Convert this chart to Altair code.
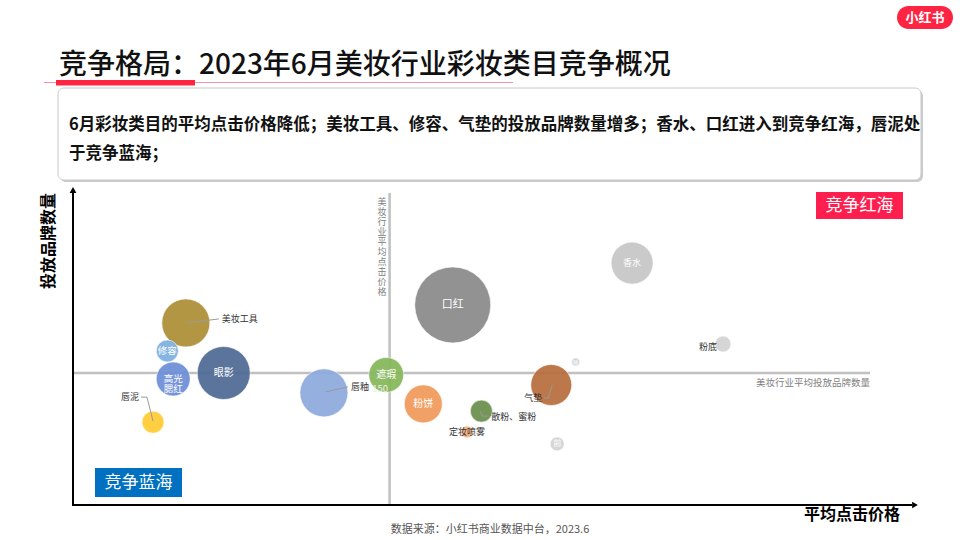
import altair as alt
import pandas as pd

FONT = "Noto Sans CJK SC"

# ---------------- data ----------------
categories = ["美妆工具", "修容", "高光腮红", "眼影", "唇泥", "唇釉", "遮瑕", "口红",
              "粉饼", "散粉、蜜粉", "定妆喷雾", "气垫", "香水", "粉底", "睫毛膏", "妆前乳"]
avg_click_price = [13.4, 11.2, 11.9, 17.9, 9.5, 29.8, 37.2, 45.1,
                   41.6, 48.5, 46.8, 56.8, 66.4, 77.2, 59.7, 57.5]
brand_count = [57.8, 48.9, 40.0, 41.9, 26.3, 35.6, 41.3, 63.5,
               32.1, 29.8, 23.2, 38.1, 76.8, 51.1, 45.4, 19.4]
spend_volume = [40, 8.4, 20, 48.6, 8.4, 40, 21, 100,
                25, 8.4, 2.5, 29, 30.5, 4.4, 1.1, 3.4]
colors = ["#AE8F36", "#7DB0E0", "#6D8FD8", "#4E6A95", "#FFCC33", "#8EAADD", "#86B75A", "#8A8A8A",
          "#F19A5A", "#6A8F4D", "#F6B07F", "#B76D3E", "#C6C6C6", "#D3D3D3", "#D0D0D0", "#D3D3D3"]
industry_avg_price = 37.6
industry_avg_brands = 41.9

# labels drawn inside bubbles: name -> (text, font size)
inner_labels = {"修容": ("修容", 9.5), "高光腮红": ("高光\n腮红", 9.5), "眼影": ("眼影", 10),
                "遮瑕": ("遮瑕", 10), "口红": ("口红", 11), "粉饼": ("粉饼", 10),
                "香水": ("香水", 9), "妆前乳": ("前", 8), "睫毛膏": ("睫", 5)}
# labels drawn outside: name -> (dx px, dy px, align)
outer_labels = {"美妆工具": (36, -4, "left"), "唇泥": (-14, -25, "right"), "唇釉": (27, -6, "left"),
                "气垫": (-9, 13, "right"), "散粉、蜜粉": (10, 6, "left"), "定妆喷雾": (0, 0, "center"),
                "粉底": (-6, 3, "right")}
# leader segments: (name, dx1, dy1, dx2, dy2) in px relative to bubble centre
leaders = [("美妆工具", 1, 0, 33, -4), ("唇泥", -12, -25, -6, -25), ("唇泥", -6, -25, 0, -1),
           ("唇釉", 2, -1, 24, -6), ("气垫", -7, 13, -3, 13), ("气垫", -3, 13, 1, 0),
           ("散粉、蜜粉", -1, 0, 1, 5), ("散粉、蜜粉", 1, 5, 7, 5)]

# ---------------- layout ----------------
X0, X1, Y0, Y1 = 73, 915, 505, 190
PX_X = (X1 - X0) / 100
PX_Y = (Y0 - Y1) / 100

df = pd.DataFrame({"name": categories, "price": avg_click_price, "brands": brand_count,
                   "volume": spend_volume})
pos = {n: (p, b) for n, p, b in zip(categories, avg_click_price, brand_count)}

inner_df = pd.DataFrame([{"price": pos[n][0], "brands": pos[n][1], "txt": t, "fs": fs}
                         for n, (t, fs) in inner_labels.items()])
outer_df = pd.DataFrame([{"price": pos[n][0] + dx / PX_X, "brands": pos[n][1] - dy / PX_Y,
                          "txt": n, "al": al} for n, (dx, dy, al) in outer_labels.items()])
lead_df = pd.DataFrame([{"price": pos[n][0] + a / PX_X, "brands": pos[n][1] - b / PX_Y,
                         "price2": pos[n][0] + c / PX_X, "brands2": pos[n][1] - d / PX_Y}
                        for n, a, b, c, d in leaders])

xs = alt.Scale(domain=[0, 100], range=[X0, X1])
ys = alt.Scale(domain=[0, 100], range=[Y0, Y1])
X = lambda f: alt.X(f, type="quantitative", scale=xs, axis=None)
Y = lambda f: alt.Y(f, type="quantitative", scale=ys, axis=None)

one = alt.Data(values=[{}])


def txt(text, x, y, size, color="#000", align="left", baseline="middle", weight="normal", **kw):
    return alt.Chart(one).mark_text(text=text, font=FONT, fontSize=size, color=color, align=align,
                                    baseline=baseline, fontWeight=weight, **kw).encode(
        x=alt.value(x), y=alt.value(y))


def rect(x, x2, y, y2, color, **kw):
    return alt.Chart(one).mark_rect(color=color, **kw).encode(
        x=alt.value(x), x2=alt.value(x2), y=alt.value(y), y2=alt.value(y2))


def hrule(x, x2, y, color, w, **kw):
    return alt.Chart(one).mark_rule(color=color, strokeWidth=w, **kw).encode(
        x=alt.value(x), x2=alt.value(x2), y=alt.value(y))


def vrule(x, y, y2, color, w, **kw):
    return alt.Chart(one).mark_rule(color=color, strokeWidth=w, **kw).encode(
        x=alt.value(x), y=alt.value(y), y2=alt.value(y2))


layers = []
# header
layers.append(txt("竞争格局：2023年6月美妆行业彩妆类目竞争概况", 59, 66, 28, color="#111", weight=500))
layers.append(hrule(44, 513, 82.5, "#FF8FA3", 1))
layers.append(rect(56, 195, 80, 85.5, "#FF2442"))
# summary box
layers.append(rect(60, 923, 90, 182, "#B5B5B5", cornerRadius=6, opacity=0.7))
layers.append(rect(58, 921, 88, 180, "#FFFFFF", cornerRadius=6, stroke="#C8C8C8", strokeWidth=1))
layers.append(txt("6月彩妆类目的平均点击价格降低；美妆工具、修容、气垫的投放品牌数量增多；香水、口红进入到竞争红海，唇泥处",
                  69, 125, 16.5, color="#111", weight="bold"))
layers.append(txt("于竞争蓝海；", 69, 154, 16.5, color="#111", weight="bold"))

# industry average lines
layers.append(alt.Chart(pd.DataFrame({"p": [industry_avg_price]})).mark_rule(
    color="#C0C0C0", strokeWidth=2.5).encode(x=X("p"), y=alt.value(193), y2=alt.value(Y0)))
layers.append(alt.Chart(pd.DataFrame({"b": [industry_avg_brands]})).mark_rule(
    color="#C0C0C0", strokeWidth=2.5).encode(y=Y("b"), x=alt.value(X0), x2=alt.value(870)))
layers.append(txt("\n".join("美妆行业平均点击价格"), 382, 198, 9, color="#808080", align="center",
                  baseline="top", lineBreak="\n", lineHeight=10))
layers.append(txt("美妆行业平均投放品牌数量", 870, 383, 9.5, color="#808080", align="right"))

# axes with arrows
layers.append(vrule(X0, 192, Y0 + 1, "#000", 2))
layers.append(hrule(X0 - 1, 912, Y0, "#000", 2))
layers.append(alt.Chart(one).mark_point(shape="triangle-up", filled=True, size=45, color="#000",
                                        opacity=1).encode(x=alt.value(X0), y=alt.value(190)))
layers.append(alt.Chart(one).mark_point(shape="triangle-right", filled=True, size=45, color="#000",
                                        opacity=1).encode(x=alt.value(915), y=alt.value(Y0)))
layers.append(txt("投放品牌数量", 49, 241, 16, align="center", weight="bold", angle=270))
layers.append(txt("平均点击价格", 852, 515, 16, align="center", weight="bold"))

# bubbles
layers.append(alt.Chart(df).mark_circle(opacity=0.93, stroke="white", strokeWidth=0.6).encode(
    x=X("price"), y=Y("brands"),
    size=alt.Size("volume:Q", scale=alt.Scale(domain=[0, 100], range=[0, 5776]), legend=None),
    color=alt.Color("name:N", scale=alt.Scale(domain=categories, range=colors), legend=None),
    tooltip=["name:N", "price:Q", "brands:Q", "volume:Q"]))

# leaders
layers.append(alt.Chart(lead_df).mark_rule(color="#9A9A9A", strokeWidth=1).encode(
    x=X("price"), y=Y("brands"), x2="price2:Q", y2="brands2:Q"))

# inner labels
layers.append(alt.Chart(inner_df).mark_text(font=FONT, color="white", lineBreak="\n", lineHeight=10,
                                            baseline="middle").encode(
    x=X("price"), y=Y("brands"), text="txt:N", size=alt.Size("fs:Q", scale=None)))
layers.append(alt.Chart(df).transform_filter(alt.datum.name == "遮瑕").mark_text(
    text="150", font=FONT, fontSize=9.5, color="#E9F0E2", dx=-6, dy=14).encode(x=X("price"), y=Y("brands")))

# outer labels
for al in ["left", "right", "center"]:
    layers.append(alt.Chart(outer_df).transform_filter(alt.datum.al == al).mark_text(
        font=FONT, fontSize=9, color="#333", align=al, baseline="middle").encode(
        x=X("price"), y=Y("brands"), text="txt:N"))

# quadrant tags
layers.append(rect(816, 903, 192, 219, "#FF1F4F"))
layers.append(txt("竞争红海", 859.5, 205.5, 17, color="white", align="center"))
layers.append(rect(95, 182, 468, 497, "#0070C0"))
layers.append(txt("竞争蓝海", 138.5, 482.5, 17, color="white", align="center"))

# logo and source
layers.append(rect(897, 953, 6, 29, "#FF2442", cornerRadius=11.5))
layers.append(txt("小红书", 925, 17.5, 13, color="white", align="center", weight="bold"))
layers.append(txt("数据来源：小红书商业数据中台，2023.6", 490, 530, 11, color="#555", align="center"))

chart = alt.layer(*layers).properties(
    width=960, height=540, padding=0,
    autosize=alt.AutoSizeParams(type="none"),
    background="white",
).configure_view(stroke=None)

chart.save("out.html", embed_options={"renderer": "svg", "actions": False})
